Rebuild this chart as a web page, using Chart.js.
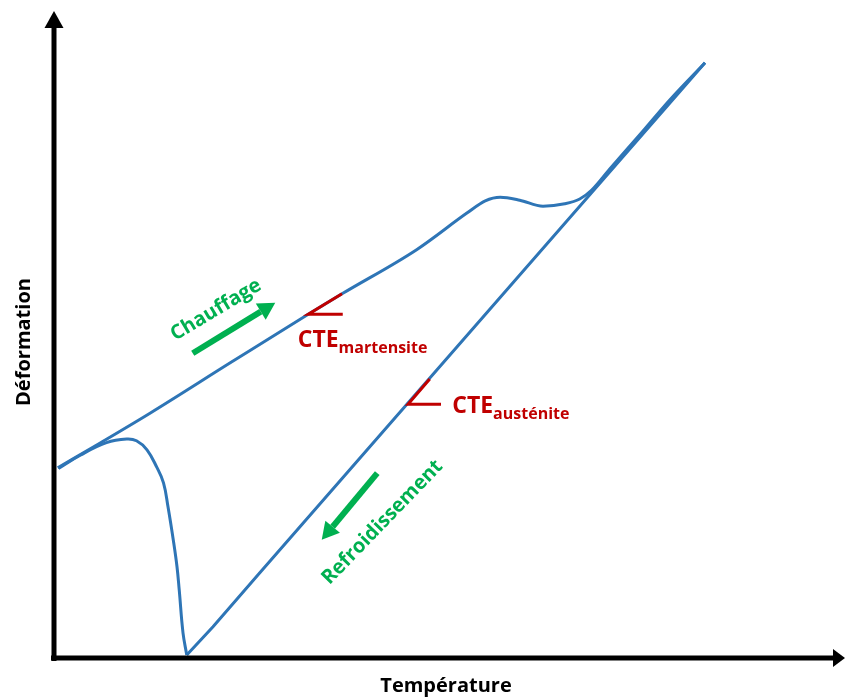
<!DOCTYPE html>
<html>
<head>
<meta charset="utf-8">
<script src="https://cdn.jsdelivr.net/npm/chart.js@4"></script>
<style>
  html, body { margin: 0; padding: 0; background: #fff; }
  #wrap { width: 845px; height: 700px; }
</style>
</head>
<body>
<div id="wrap"><canvas id="chart"></canvas></div>
<script>
// Chauffage : température / déformation (unités arbitraires)
const heatT = [0.5, 6.1, 12.8, 23.5, 33.9, 38.4, 48.4, 55.1, 57.5, 59.5, 62.1, 65.2, 68.1, 70.1, 71.7, 74.1, 78.1, 82.1, 86.8];
const heatD = [31.7, 35.8, 40.8, 49.2, 57.3, 60.7, 68.1, 74.2, 76.2, 76.8, 76.3, 75.3, 75.7, 76.5, 78.0, 81.5, 87.2, 93.0, 99.2];

// Refroidissement : droite de l'austénite
const coolT = [86.8, 47.2, 27.5, 21.2, 17.7];
const coolD = [99.2, 42.5, 14.3, 5.2, 0.5];

// Transformation martensitique en fin de refroidissement
const transT = [17.7, 17.2, 16.7, 16.4, 15.9, 15.2, 14.6, 13.7, 12.4, 11.0, 9.7, 7.0, 3.5, 0.6];
const transD = [0.5, 4.2, 11.3, 15.2, 19.7, 25.2, 29.2, 31.8, 34.7, 36.2, 36.5, 35.9, 33.8, 31.6];

// Repères de pente (CTE)
const cteMartT = [38.5, 33.9, 38.4];
const cteMartD = [57.3, 57.3, 60.7];
const cteAustT = [51.6, 47.2, 50.1];
const cteAustD = [42.3, 42.3, 46.5];

const toPts = (xs, ys) => xs.map((x, i) => ({ x: x, y: ys[i] }));

const BLUE = "#2E75B6";
const RED = "#C00000";
const GREEN = "#00B050";
const FONT = "'Open Sans', Lato, sans-serif";

function arrow(ctx, x1, y1, x2, y2, lw, headLen, headW, color) {
  const a = Math.atan2(y2 - y1, x2 - x1);
  const bx = x2 - headLen * Math.cos(a);
  const by = y2 - headLen * Math.sin(a);
  ctx.save();
  ctx.strokeStyle = color;
  ctx.fillStyle = color;
  ctx.lineWidth = lw;
  ctx.lineCap = "butt";
  ctx.beginPath();
  ctx.moveTo(x1, y1);
  ctx.lineTo(bx, by);
  ctx.stroke();
  ctx.beginPath();
  ctx.moveTo(x2, y2);
  ctx.lineTo(bx + headW / 2 * Math.sin(a), by - headW / 2 * Math.cos(a));
  ctx.lineTo(bx - headW / 2 * Math.sin(a), by + headW / 2 * Math.cos(a));
  ctx.closePath();
  ctx.fill();
  ctx.restore();
}

function rotText(ctx, txt, x, y, deg, font, color) {
  ctx.save();
  ctx.translate(x, y);
  ctx.rotate(deg * Math.PI / 180);
  ctx.font = font;
  ctx.fillStyle = color;
  ctx.textAlign = "center";
  ctx.textBaseline = "middle";
  ctx.fillText(txt, 0, 0);
  ctx.restore();
}

function cteLabel(ctx, x, y, sub) {
  ctx.save();
  ctx.fillStyle = RED;
  ctx.textBaseline = "alphabetic";
  ctx.textAlign = "left";
  ctx.font = "bold 23px " + FONT;
  ctx.fillText("CTE", x, y);
  const w = ctx.measureText("CTE").width;
  ctx.font = "bold 16px " + FONT;
  ctx.fillText(sub, x + w, y + 6);
  ctx.restore();
}

// Axes fléchés, titres et annotations
const decor = {
  id: "decor",
  afterDraw(chart) {
    const ctx = chart.ctx;
    const ca = chart.chartArea;
    const sx = chart.scales.x;
    const sy = chart.scales.y;
    const px = (v) => sx.getPixelForValue(v);
    const py = (v) => sy.getPixelForValue(v);

    // axes
    arrow(ctx, ca.left, ca.bottom + 3, ca.left, 11, 5, 17, 19, "#000");
    arrow(ctx, ca.left - 3, ca.bottom, 845, ca.bottom, 5, 12, 18, "#000");

    // titres
    rotText(ctx, "Déformation", 24, 342, -90, "bold 20px " + FONT, "#000");
    rotText(ctx, "Température", 446, 686, 0, "bold 20px " + FONT, "#000");

    // flèches vertes
    arrow(ctx, px(18.5), py(50.8), px(29.5), py(59.2), 6, 17, 19, GREEN);
    rotText(ctx, "Chauffage", px(21.6), py(58.0), -31, "bold 20px " + FONT, GREEN);
    arrow(ctx, px(43.1), py(30.8), px(35.7), py(19.7), 6, 17, 19, GREEN);
    rotText(ctx, "Refroidissement", px(43.8), py(22.6), -46, "bold 20px " + FONT, GREEN);

    // étiquettes CTE
    cteLabel(ctx, px(32.5), py(51.8), "martensite");
    cteLabel(ctx, px(53.1), py(40.8), "austénite");
  },
};

const lineDs = (pts, color, width, tension) => ({
  data: pts,
  showLine: true,
  borderColor: color,
  borderWidth: width,
  pointRadius: 0,
  tension: tension,
  fill: false,
  clip: false,
});

const heatDs = lineDs(toPts(heatT, heatD), BLUE, 3, 0.4);
heatDs.cubicInterpolationMode = "monotone";

new Chart(document.getElementById("chart"), {
  type: "scatter",
  data: {
    // les premiers jeux sont dessinés au-dessus
    datasets: [
      lineDs(toPts(cteMartT, cteMartD), RED, 3, 0),
      lineDs(toPts(cteAustT, cteAustD), RED, 3, 0),
      heatDs,
      lineDs(toPts(coolT, coolD), BLUE, 3, 0),
      lineDs(toPts(transT, transD), BLUE, 3, 0.4),
    ],
  },
  options: {
    responsive: true,
    maintainAspectRatio: false,
    animation: false,
    layout: { padding: { left: 54, right: 41, top: 58, bottom: 42 } },
    plugins: { legend: { display: false }, tooltip: { enabled: false } },
    scales: {
      x: { type: "linear", min: 0, max: 100, display: false },
      y: { type: "linear", min: 0, max: 100, display: false },
    },
  },
  plugins: [decor],
});
</script>
</body>
</html>
